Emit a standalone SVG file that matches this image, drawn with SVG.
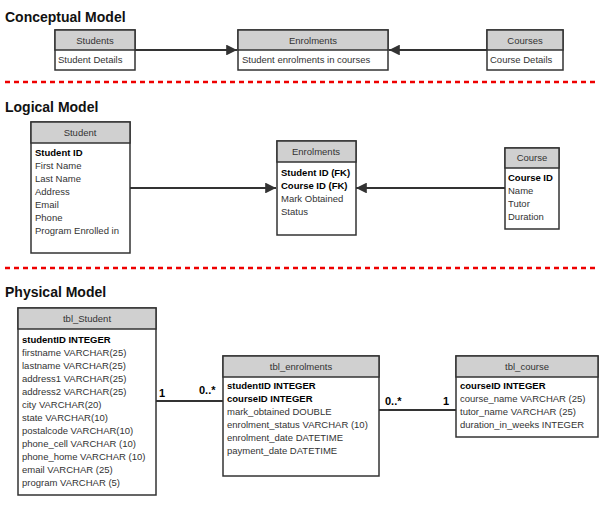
<svg xmlns="http://www.w3.org/2000/svg" width="600" height="508" viewBox="0 0 600 508">
<style>
text{font-family:"Liberation Sans",Arial,sans-serif;font-size:9.5px;fill:#333}
.t{font-size:14px;font-weight:bold;fill:#111}
.b{font-weight:bold;fill:#000}
.h{text-anchor:middle}
.box{fill:#fff;stroke:#333;stroke-width:1.5}
.hd{fill:#d0d0d0;stroke:#333;stroke-width:1.5}
.sep{stroke:#e00;stroke-width:2.5;stroke-dasharray:5,4}
.c{stroke:#333;stroke-width:1.8;fill:none}
.m{font-size:11px;font-weight:bold;fill:#000}
</style>
<defs><marker id="a" viewBox="0 0 10 10" refX="10" refY="5" markerWidth="6" markerHeight="6" orient="auto"><path d="M0,0L10,5L0,10z" fill="#333"/></marker></defs>
<text class="t" x="5" y="22">Conceptual Model</text>
<text class="t" x="5" y="112">Logical Model</text>
<text class="t" x="5" y="297">Physical Model</text>
<line class="sep" x1="5" y1="82" x2="598" y2="82"/>
<line class="sep" x1="5" y1="268" x2="598" y2="268"/>
<g id="connectors">
<line class="c" x1="135" y1="50" x2="237" y2="50" marker-end="url(#a)"/>
<line class="c" x1="487" y1="50" x2="389" y2="50" marker-end="url(#a)"/>
<line class="c" x1="130" y1="188" x2="276" y2="188" marker-end="url(#a)"/>
<line class="c" x1="505" y1="188" x2="356" y2="188" marker-end="url(#a)"/>
<line class="c" x1="156" y1="401" x2="223" y2="401"/>
<line class="c" x1="379" y1="410" x2="456" y2="410"/>
<text class="m" x="159" y="397">1</text>
<text class="m" x="199" y="394">0..*</text>
<text class="m" x="385" y="405">0..*</text>
<text class="m" x="443" y="405">1</text>
</g>
<g id="c-students"><rect class="box" x="55" y="30" width="80" height="40"/><rect class="hd" x="55" y="30" width="80" height="20"/><text class="h" x="95" y="44">Students</text><text x="58" y="63">Student Details</text></g>
<g id="c-enrol"><rect class="box" x="238" y="30" width="150" height="40"/><rect class="hd" x="238" y="30" width="150" height="20"/><text class="h" x="313" y="44">Enrolments</text><text x="242" y="63">Student enrolments in courses</text></g>
<g id="c-courses"><rect class="box" x="487" y="30" width="76" height="40"/><rect class="hd" x="487" y="30" width="76" height="20"/><text class="h" x="525" y="44">Courses</text><text x="490" y="63">Course Details</text></g>
<g id="l-student"><rect class="box" x="31" y="122" width="99" height="131"/><rect class="hd" x="31" y="122" width="99" height="21"/><text class="h" x="80" y="136">Student</text>
<text class="b" x="35" y="156">Student ID</text><text x="35" y="169">First Name</text><text x="35" y="182">Last Name</text><text x="35" y="195">Address</text><text x="35" y="208">Email</text><text x="35" y="221">Phone</text><text x="35" y="234">Program Enrolled in</text></g>
<g id="l-enrol"><rect class="box" x="277" y="141" width="79" height="94"/><rect class="hd" x="277" y="141" width="79" height="21"/><text class="h" x="316" y="155">Enrolments</text>
<text class="b" x="281" y="176">Student ID (FK)</text><text class="b" x="281" y="189">Course ID (FK)</text><text x="281" y="202">Mark Obtained</text><text x="281" y="215">Status</text></g>
<g id="l-course"><rect class="box" x="505" y="148" width="54" height="81"/><rect class="hd" x="505" y="148" width="54" height="20"/><text class="h" x="532" y="161">Course</text>
<text class="b" x="508" y="181">Course ID</text><text x="508" y="194">Name</text><text x="508" y="207">Tutor</text><text x="508" y="220">Duration</text></g>
<g id="p-student"><rect class="box" x="18" y="308" width="138" height="187"/><rect class="hd" x="18" y="308" width="138" height="21"/><text class="h" x="87" y="322">tbl_Student</text>
<text class="b" x="22" y="343">studentID INTEGER</text><text x="22" y="356">firstname VARCHAR(25)</text><text x="22" y="369">lastname VARCHAR(25)</text><text x="22" y="382">address1 VARCHAR(25)</text><text x="22" y="395">address2 VARCHAR(25)</text><text x="22" y="408">city VARCHAR(20)</text><text x="22" y="421">state VARCHAR(10)</text><text x="22" y="434">postalcode VARCHAR(10)</text><text x="22" y="447">phone_cell VARCHAR (10)</text><text x="22" y="460">phone_home VARCHAR (10)</text><text x="22" y="473">email VARCHAR (25)</text><text x="22" y="486">program VARCHAR (5)</text></g>
<g id="p-enrol"><rect class="box" x="223" y="356" width="156" height="120"/><rect class="hd" x="223" y="356" width="156" height="21"/><text class="h" x="301" y="370">tbl_enrolments</text>
<text class="b" x="227" y="389">studentID INTEGER</text><text class="b" x="227" y="402">courseID INTEGER</text><text x="227" y="415">mark_obtained DOUBLE</text><text x="227" y="428">enrolment_status VARCHAR (10)</text><text x="227" y="441">enrolment_date DATETIME</text><text x="227" y="454">payment_date DATETIME</text></g>
<g id="p-course"><rect class="box" x="456" y="356" width="142" height="81"/><rect class="hd" x="456" y="356" width="142" height="21"/><text class="h" x="527" y="370">tbl_course</text>
<text class="b" x="460" y="389">courseID INTEGER</text><text x="460" y="402">course_name VARCHAR (25)</text><text x="460" y="415">tutor_name VARCHAR (25)</text><text x="460" y="428">duration_in_weeks INTEGER</text></g>
</svg>
